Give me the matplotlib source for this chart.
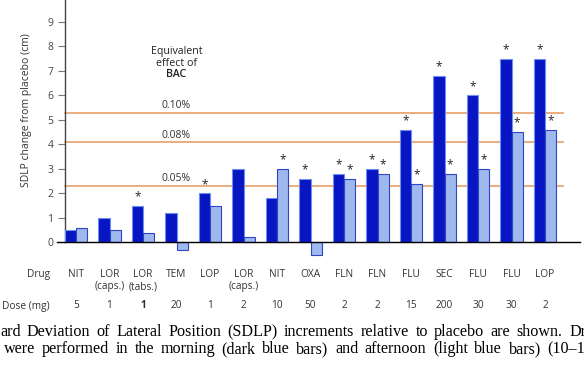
import matplotlib
matplotlib.use("Agg")
import matplotlib.pyplot as plt
import matplotlib.transforms as mtransforms
import numpy as np

plt.rcParams['font.family'] = ['Open Sans', 'DejaVu Sans']

drugs = ["NIT", "LOR\n(caps.)", "LOR\n(tabs.)", "TEM", "LOP", "LOR\n(caps.)", "NIT", "OXA",
         "FLN", "FLN", "FLU", "SEC", "FLU", "FLU", "LOP"]
doses = ["5", "1", "1", "20", "1", "2", "10", "50", "2", "2", "15", "200", "30", "30", "2"]
morning = [0.5, 1.0, 1.5, 1.2, 2.0, 3.0, 1.8, 2.6, 2.8, 3.0, 4.6, 6.8, 6.0, 7.5, 7.5]
afternoon = [0.6, 0.5, 0.4, -0.3, 1.5, 0.2, 3.0, -0.5, 2.6, 2.8, 2.4, 2.8, 3.0, 4.5, 4.6]
morning_sig = [0, 0, 1, 0, 1, 0, 0, 1, 1, 1, 1, 1, 1, 1, 1]
afternoon_sig = [0, 0, 0, 0, 0, 0, 1, 0, 1, 1, 1, 1, 1, 1, 1]
bac_levels = [5.28, 4.08, 2.30]
bac_labels = ["0.10%", "0.08%", "0.05%"]
yticks = list(range(0, 10))
caption_lines = [
    "ard Deviation of Lateral Position (SDLP) increments relative to placebo are shown. Dr",
    "were performed in the morning (dark blue bars) and afternoon (light blue bars) (10\u20131",
]

W, H = 584, 369
fig = plt.figure(figsize=(W / 100, H / 100), dpi=100)

px_per_unit_x = 33.5
x0_px = 76.0
ax_left_px, ax_right_px = 57, 584
ax_top_px, ax_bot_px = 0, 262
zero_px = 242.3
px_per_unit_y = 24.5

ax = fig.add_axes([ax_left_px / W, 1 - ax_bot_px / H, (ax_right_px - ax_left_px) / W,
                   (ax_bot_px - ax_top_px) / H])
ax.set_xlim((ax_left_px - x0_px) / px_per_unit_x, (ax_right_px - x0_px) / px_per_unit_x)
ax.set_ylim((zero_px - ax_bot_px) / px_per_unit_y, (zero_px - ax_top_px) / px_per_unit_y)

n = len(drugs)
x = np.arange(n)
bw = 0.33
dark = "#0716c2"
dark_edge = "#6f8ff0"
light = "#9fb8ee"
light_edge = "#2e46c4"

ax.bar(x - bw / 2, morning, bw, color=dark, edgecolor=dark_edge, linewidth=0.8, zorder=3)
ax.bar(x + bw / 2, afternoon, bw, color=light, edgecolor=light_edge, linewidth=0.8, zorder=3)

for i in range(n):
    if morning_sig[i]:
        ax.text(x[i] - bw / 2, morning[i] + 0.1, "*", ha="center", va="bottom",
                fontsize=8.5, color="#222222", zorder=4)
    if afternoon_sig[i]:
        ax.text(x[i] + bw / 2, afternoon[i] + 0.1, "*", ha="center", va="bottom",
                fontsize=8.5, color="#222222", zorder=4)

spine_x = (65 - x0_px) / px_per_unit_x
line_end = (563 - x0_px) / px_per_unit_x
for lvl, lab in zip(bac_levels, bac_labels):
    ax.plot([spine_x, line_end], [lvl, lvl], color="#e8a066", lw=1.2, zorder=1)
    ax.text(x[3], lvl + 0.06, lab, ha="center", va="bottom", fontsize=7.5, color="#333333")

ax.text(x[3], 7.55, "Equivalent\neffect of", ha="center", va="center", fontsize=7.7,
        color="#222222", linespacing=1.05)
ax.text(x[3], 6.85, "BAC", ha="center", va="center", fontsize=7.7, color="#222222",
        fontweight="semibold")

ax.plot([ax.get_xlim()[0], (580 - x0_px) / px_per_unit_x], [0, 0], color="black", lw=1.0,
        zorder=5, clip_on=False)

for s in ["top", "right", "bottom"]:
    ax.spines[s].set_visible(False)
ax.spines["left"].set_position(("data", spine_x))
ax.spines["left"].set_bounds(0, ax.get_ylim()[1])
ax.spines["left"].set_color("#444444")
ax.spines["left"].set_linewidth(1.0)
ax.set_xticks([])
ax.set_yticks(yticks)
ax.tick_params(axis="y", length=5, width=0.8, color="#777777", labelsize=7.5,
               labelcolor="#444444", pad=3.5)
ax.set_ylabel("SDLP change from placebo (cm)", fontsize=7.5, color="#333333")
ax.yaxis.set_label_coords((32 - ax_left_px) / (ax_right_px - ax_left_px), 1 - 110 / 262)

# table rows, aligned with bar groups
tr = mtransforms.blended_transform_factory(ax.transData, fig.transFigure)
for i in range(n):
    ax.text(x[i], 1 - 269 / H, drugs[i], transform=tr, ha="center", va="top",
            fontsize=7.3, color="#333333", linespacing=1.15, clip_on=False)
    ax.text(x[i], 1 - 306 / H, doses[i], transform=tr, ha="center", va="center",
            fontsize=7.3, color="#333333", clip_on=False,
            fontweight="bold" if i == 2 else "normal")
fig.text(50 / W, 1 - 275 / H, "Drug", ha="right", va="center", fontsize=7.3, color="#333333")
fig.text(50 / W, 1 - 306 / H, "Dose (mg)", ha="right", va="center", fontsize=7.3,
         color="#333333")

# caption (cropped in reference), justified between the edges
cap = dict(fontsize=11.6, color="black", family=["Liberation Serif", "DejaVu Serif"],
           ha="left", va="baseline")
renderer = fig.canvas.get_renderer()


def justify(line, y_px, x_start, x_end):
    words = line.split(" ")
    texts = [fig.text(0, 1 - y_px / H, w, **cap) for w in words]
    widths = [t.get_window_extent(renderer).width for t in texts]
    gap = (x_end - x_start - sum(widths)) / (len(words) - 1)
    xx = x_start
    for t, w in zip(texts, widths):
        t.set_x(xx / W)
        xx += w + gap


justify(caption_lines[0], 336, 0, 586)
justify(caption_lines[1], 353, 4, 585)

fig.savefig("out.png", dpi=100)
